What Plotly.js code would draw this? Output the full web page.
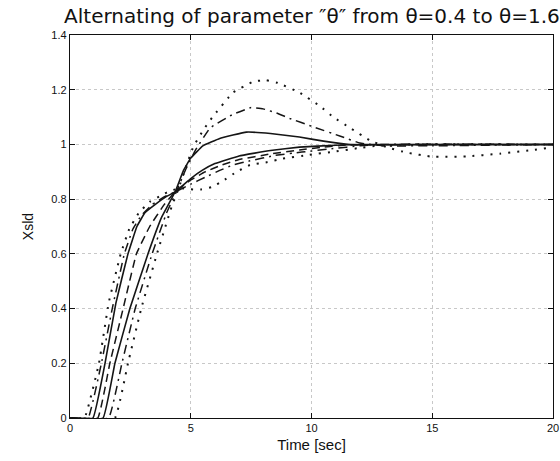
<!DOCTYPE html>
<html>
<head>
<meta charset="utf-8">
<script src="https://cdn.plot.ly/plotly-3.0.1.min.js"></script>
<style>html,body{margin:0;padding:0;background:#fff;}#chart{width:560px;height:461px;}</style>
</head>
<body>
<div id="chart"></div>
<script>
// Time [sec] and Xsld for each curve
const t1 = [0, 0.6, 1.2, 1.6, 2.1, 2.45, 2.85, 3.3, 3.8, 4.2, 4.6, 5.0, 5.4, 5.9, 6.3, 6.9, 7.45, 8.15, 8.8, 9.9, 10.9, 11.9, 12.7, 14, 20];
const v1 = [0, 0, 0.2, 0.42, 0.6, 0.69, 0.75, 0.79, 0.815, 0.832, 0.84, 0.836, 0.835, 0.845, 0.865, 0.9, 0.925, 0.935, 0.948, 0.962, 0.973, 0.986, 0.995, 1.0, 1.0];

const t2 = [0, 0.75, 1.3, 1.75, 2.25, 2.6, 2.95, 3.4, 3.9, 4.35, 5.0, 5.6, 6.2, 6.75, 7.45, 8.5, 9.6, 10.9, 12, 13, 20];
const v2 = [0, 0, 0.2, 0.4, 0.6, 0.69, 0.74, 0.78, 0.808, 0.826, 0.855, 0.88, 0.905, 0.925, 0.94, 0.96, 0.972, 0.985, 0.995, 1, 1];

const t3 = [0, 1.15, 1.65, 2.2, 2.75, 3.3, 3.9, 4.35, 5.0, 5.6, 6.2, 7.0, 8.3, 9.5, 10.5, 11.5, 20];
const v3 = [0, 0, 0.2, 0.4, 0.6, 0.7, 0.78, 0.826, 0.87, 0.9, 0.922, 0.945, 0.965, 0.98, 0.99, 0.998, 1];

const t4 = [0, 0.95, 1.45, 1.9, 2.4, 2.77, 3.1, 3.52, 4.0, 4.35, 5.0, 5.47, 6.0, 7.0, 8.3, 9.5, 11, 12, 20];
const v4 = [0, 0, 0.2, 0.42, 0.6, 0.70, 0.75, 0.78, 0.81, 0.826, 0.875, 0.905, 0.93, 0.958, 0.978, 0.99, 0.997, 1, 1];

const t5 = [0, 1.37, 1.86, 2.48, 3.23, 3.8, 4.35, 4.7, 5.0, 5.5, 6.2, 7.3, 8.3, 9.5, 10.5, 11.6, 13, 20];
const v5 = [0, 0, 0.2, 0.4, 0.6, 0.735, 0.826, 0.905, 0.95, 0.995, 1.022, 1.045, 1.04, 1.027, 1.012, 1.0, 0.999, 1];

const t6 = [0, 1.6, 2.15, 2.7, 3.4, 4.0, 4.4, 4.8, 5.2, 5.8, 6.75, 7.5, 8.0, 8.55, 9.1, 10.05, 11.2, 12.0, 13, 15, 20];
const v6 = [0, 0, 0.2, 0.4, 0.6, 0.75, 0.826, 0.91, 0.98, 1.06, 1.11, 1.135, 1.13, 1.115, 1.095, 1.065, 1.03, 1.005, 0.995, 0.995, 1];

const t7 = [0, 1.86, 2.4, 2.95, 3.6, 4.2, 4.5, 4.85, 5.1, 5.5, 5.9, 6.75, 7.6, 8.1, 8.6, 9.5, 10.35, 10.9, 11.6, 12.4, 13.1, 13.95, 15.0, 16.4, 17.8, 19.2, 20];
const v7 = [0, 0, 0.2, 0.4, 0.6, 0.77, 0.84, 0.93, 0.99, 1.05, 1.1, 1.19, 1.23, 1.235, 1.225, 1.19, 1.14, 1.10, 1.06, 1.016, 0.99, 0.97, 0.955, 0.956, 0.966, 0.98, 0.99];

const xTicks = [0, 5, 10, 15, 20];
const yTicks = [0, 0.2, 0.4, 0.6, 0.8, 1, 1.2, 1.4];

const curves = [
  {t: t1, v: v1, dash: '2px,7px', w: 2},
  {t: t2, v: v2, dash: '9px,5px,2px,5px', w: 1.5},
  {t: t3, v: v3, dash: '8px,5px', w: 1.5},
  {t: t4, v: v4, dash: 'solid', w: 1.6},
  {t: t5, v: v5, dash: 'solid', w: 1.6},
  {t: t6, v: v6, dash: '9px,5px,2px,5px', w: 1.5},
  {t: t7, v: v7, dash: '2px,7px', w: 2}
];

const traces = curves.map(c => ({
  x: c.t, y: c.v, type: 'scatter', mode: 'lines',
  line: {color: '#151515', width: c.w, dash: c.dash, shape: 'spline', smoothing: 0.25},
  hoverinfo: 'skip', showlegend: false
}));

const axisCommon = {
  showline: true, mirror: 'ticks', linecolor: '#111', linewidth: 1.2,
  ticks: 'inside', ticklen: 5, tickcolor: '#111',
  showgrid: true, gridcolor: '#c8c8c8', griddash: 'dot', gridwidth: 1,
  zeroline: false,
  tickfont: {family: 'Liberation Sans, Arial, sans-serif', size: 11, color: '#111'}
};

const layout = {
  width: 560, height: 461,
  margin: {l: 70, r: 7, t: 35, b: 43},
  paper_bgcolor: '#fff', plot_bgcolor: '#fff',
  title: {
    text: 'Alternating of parameter ″θ″ from θ=0.4 to θ=1.6',
    font: {family: 'DejaVu Sans, sans-serif', size: 20, color: '#111'},
    x: 0.557, xanchor: 'center', y: 0.965, yanchor: 'middle'
  },
  xaxis: Object.assign({}, axisCommon, {
    range: [0, 20], tickvals: xTicks,
    title: {text: 'Time [sec]', font: {family: 'Liberation Sans, Arial, sans-serif', size: 15, color: '#111'}, standoff: 6}
  }),
  yaxis: Object.assign({}, axisCommon, {
    range: [0, 1.4], tickvals: yTicks,
    title: {text: 'Xsld', font: {family: 'Liberation Sans, Arial, sans-serif', size: 14, color: '#111'}, standoff: 14}
  })
};

Plotly.newPlot('chart', traces, layout, {displayModeBar: false, staticPlot: true});
</script>
</body>
</html>
